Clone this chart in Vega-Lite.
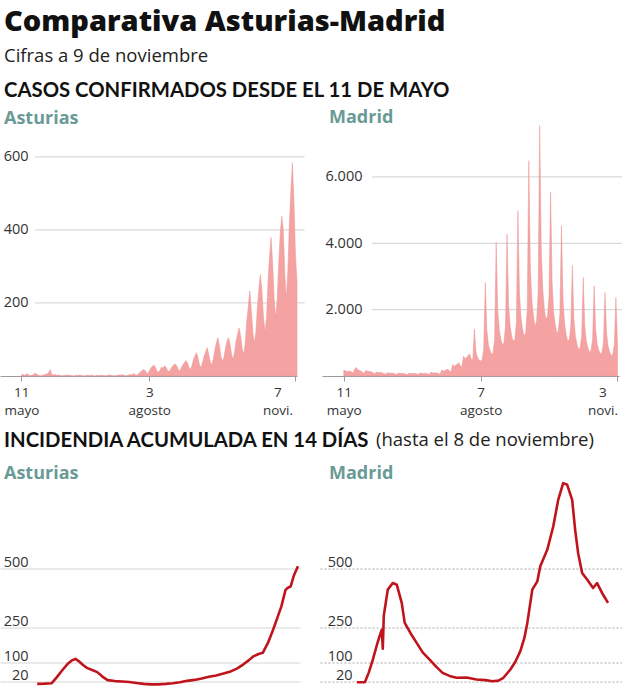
{
  "$schema": "https://vega.github.io/schema/vega-lite/v6.json",
  "padding": {"left": 0, "top": 8, "right": 0, "bottom": 0},
  "title": {
    "text": "Comparativa Asturias-Madrid",
    "subtitle": "Cifras a 9 de noviembre",
    "anchor": "start", "font": "Open Sans", "fontSize": 29, "fontWeight": 800, "color": "#111111",
    "subtitleFont": "Open Sans", "subtitleFontSize": 18.5, "subtitleColor": "#222222", "subtitlePadding": 9.5,
    "dx": 4, "offset": 16
  },
  "datasets": {
    "cases": [
      {"d":"2020-05-11","a":3,"m":180},{"d":"2020-05-12","a":5,"m":150},{"d":"2020-05-13","a":2,"m":140},{"d":"2020-05-14","a":4,"m":130},{"d":"2020-05-15","a":6,"m":160},{"d":"2020-05-16","a":2,"m":120},{"d":"2020-05-17","a":1,"m":90},
      {"d":"2020-05-18","a":2,"m":200},{"d":"2020-05-19","a":4,"m":260},{"d":"2020-05-20","a":8,"m":180},{"d":"2020-05-21","a":5,"m":170},{"d":"2020-05-22","a":3,"m":150},{"d":"2020-05-23","a":1,"m":110},{"d":"2020-05-24","a":0,"m":80},
      {"d":"2020-05-25","a":2,"m":160},{"d":"2020-05-26","a":3,"m":150},{"d":"2020-05-27","a":5,"m":140},{"d":"2020-05-28","a":6,"m":130},{"d":"2020-05-29","a":9,"m":120},{"d":"2020-05-30","a":18,"m":90},{"d":"2020-05-31","a":4,"m":70},
      {"d":"2020-06-01","a":3,"m":120},{"d":"2020-06-02","a":4,"m":110},{"d":"2020-06-03","a":2,"m":100},{"d":"2020-06-04","a":3,"m":110},{"d":"2020-06-05","a":2,"m":90},{"d":"2020-06-06","a":1,"m":70},{"d":"2020-06-07","a":1,"m":60},
      {"d":"2020-06-08","a":1,"m":100},{"d":"2020-06-09","a":2,"m":90},{"d":"2020-06-10","a":3,"m":80},{"d":"2020-06-11","a":2,"m":90},{"d":"2020-06-12","a":2,"m":80},{"d":"2020-06-13","a":1,"m":60},{"d":"2020-06-14","a":0,"m":50},
      {"d":"2020-06-15","a":1,"m":90},{"d":"2020-06-16","a":2,"m":80},{"d":"2020-06-17","a":1,"m":75},{"d":"2020-06-18","a":3,"m":80},{"d":"2020-06-19","a":2,"m":70},{"d":"2020-06-20","a":1,"m":55},{"d":"2020-06-21","a":0,"m":45},
      {"d":"2020-06-22","a":1,"m":85},{"d":"2020-06-23","a":2,"m":75},{"d":"2020-06-24","a":2,"m":70},{"d":"2020-06-25","a":1,"m":80},{"d":"2020-06-26","a":3,"m":75},{"d":"2020-06-27","a":1,"m":60},{"d":"2020-06-28","a":0,"m":50},
      {"d":"2020-06-29","a":1,"m":90},{"d":"2020-06-30","a":2,"m":80},{"d":"2020-07-01","a":1,"m":75},{"d":"2020-07-02","a":2,"m":85},{"d":"2020-07-03","a":2,"m":80},{"d":"2020-07-04","a":1,"m":60},{"d":"2020-07-05","a":1,"m":55},
      {"d":"2020-07-06","a":1,"m":110},{"d":"2020-07-07","a":2,"m":95},{"d":"2020-07-08","a":3,"m":90},{"d":"2020-07-09","a":2,"m":100},{"d":"2020-07-10","a":1,"m":95},{"d":"2020-07-11","a":1,"m":70},{"d":"2020-07-12","a":0,"m":60},
      {"d":"2020-07-13","a":2,"m":180},{"d":"2020-07-14","a":3,"m":150},{"d":"2020-07-15","a":2,"m":160},{"d":"2020-07-16","a":4,"m":190},{"d":"2020-07-17","a":3,"m":200},{"d":"2020-07-18","a":1,"m":150},{"d":"2020-07-19","a":1,"m":130},
      {"d":"2020-07-20","a":2,"m":350},{"d":"2020-07-21","a":4,"m":300},{"d":"2020-07-22","a":3,"m":320},{"d":"2020-07-23","a":5,"m":360},{"d":"2020-07-24","a":6,"m":400},{"d":"2020-07-25","a":3,"m":300},{"d":"2020-07-26","a":2,"m":280},
      {"d":"2020-07-27","a":6,"m":600},{"d":"2020-07-28","a":10,"m":520},{"d":"2020-07-29","a":14,"m":560},{"d":"2020-07-30","a":18,"m":620},{"d":"2020-07-31","a":16,"m":660},{"d":"2020-08-01","a":10,"m":500},{"d":"2020-08-02","a":6,"m":500},
      {"d":"2020-08-03","a":14,"m":1420},{"d":"2020-08-04","a":22,"m":720},{"d":"2020-08-05","a":26,"m":560},{"d":"2020-08-06","a":30,"m":480},{"d":"2020-08-07","a":24,"m":450},{"d":"2020-08-08","a":14,"m":500},{"d":"2020-08-09","a":10,"m":800},
      {"d":"2020-08-10","a":16,"m":2820},{"d":"2020-08-11","a":24,"m":1400},{"d":"2020-08-12","a":22,"m":950},{"d":"2020-08-13","a":28,"m":780},{"d":"2020-08-14","a":24,"m":650},{"d":"2020-08-15","a":15,"m":700},{"d":"2020-08-16","a":12,"m":1100},
      {"d":"2020-08-17","a":18,"m":4030},{"d":"2020-08-18","a":26,"m":2000},{"d":"2020-08-19","a":30,"m":1400},{"d":"2020-08-20","a":33,"m":1100},{"d":"2020-08-21","a":28,"m":950},{"d":"2020-08-22","a":18,"m":1000},{"d":"2020-08-23","a":14,"m":1500},
      {"d":"2020-08-24","a":22,"m":4280},{"d":"2020-08-25","a":30,"m":2150},{"d":"2020-08-26","a":36,"m":1500},{"d":"2020-08-27","a":42,"m":1200},{"d":"2020-08-28","a":38,"m":1050},{"d":"2020-08-29","a":24,"m":1100},{"d":"2020-08-30","a":18,"m":1600},
      {"d":"2020-08-31","a":28,"m":4985},{"d":"2020-09-01","a":45,"m":2500},{"d":"2020-09-02","a":55,"m":1750},{"d":"2020-09-03","a":64,"m":1400},{"d":"2020-09-04","a":50,"m":1200},{"d":"2020-09-05","a":30,"m":1300},{"d":"2020-09-06","a":24,"m":2000},
      {"d":"2020-09-07","a":36,"m":6490},{"d":"2020-09-08","a":55,"m":3250},{"d":"2020-09-09","a":66,"m":2250},{"d":"2020-09-10","a":78,"m":1800},{"d":"2020-09-11","a":60,"m":1500},{"d":"2020-09-12","a":40,"m":1650},{"d":"2020-09-13","a":30,"m":2500},
      {"d":"2020-09-14","a":45,"m":7550},{"d":"2020-09-15","a":70,"m":3800},{"d":"2020-09-16","a":90,"m":2600},{"d":"2020-09-17","a":105,"m":2000},{"d":"2020-09-18","a":85,"m":1700},{"d":"2020-09-19","a":55,"m":1800},{"d":"2020-09-20","a":40,"m":2400},
      {"d":"2020-09-21","a":50,"m":5540},{"d":"2020-09-22","a":75,"m":2800},{"d":"2020-09-23","a":95,"m":1900},{"d":"2020-09-24","a":105,"m":1550},{"d":"2020-09-25","a":90,"m":1300},{"d":"2020-09-26","a":60,"m":1350},{"d":"2020-09-27","a":45,"m":1900},
      {"d":"2020-09-28","a":65,"m":4530},{"d":"2020-09-29","a":95,"m":2300},{"d":"2020-09-30","a":115,"m":1600},{"d":"2020-10-01","a":132,"m":1250},{"d":"2020-10-02","a":110,"m":1050},{"d":"2020-10-03","a":75,"m":1100},{"d":"2020-10-04","a":58,"m":1500},
      {"d":"2020-10-05","a":90,"m":3330},{"d":"2020-10-06","a":150,"m":1700},{"d":"2020-10-07","a":190,"m":1200},{"d":"2020-10-08","a":233,"m":950},{"d":"2020-10-09","a":180,"m":800},{"d":"2020-10-10","a":120,"m":850},{"d":"2020-10-11","a":90,"m":1200},
      {"d":"2020-10-12","a":120,"m":2970},{"d":"2020-10-13","a":190,"m":1500},{"d":"2020-10-14","a":240,"m":1050},{"d":"2020-10-15","a":278,"m":850},{"d":"2020-10-16","a":230,"m":720},{"d":"2020-10-17","a":160,"m":760},{"d":"2020-10-18","a":120,"m":1100},
      {"d":"2020-10-19","a":160,"m":2720},{"d":"2020-10-20","a":260,"m":1400},{"d":"2020-10-21","a":330,"m":950},{"d":"2020-10-22","a":379,"m":780},{"d":"2020-10-23","a":310,"m":660},{"d":"2020-10-24","a":210,"m":700},{"d":"2020-10-25","a":160,"m":1000},
      {"d":"2020-10-26","a":210,"m":2520},{"d":"2020-10-27","a":310,"m":1300},{"d":"2020-10-28","a":390,"m":900},{"d":"2020-10-29","a":438,"m":720},{"d":"2020-10-30","a":400,"m":620},{"d":"2020-10-31","a":280,"m":650},{"d":"2020-11-01","a":210,"m":950},
      {"d":"2020-11-02","a":290,"m":2370},{"d":"2020-11-03","a":420,"m":1000},{"d":"2020-11-04","a":510,"m":null},{"d":"2020-11-05","a":584,"m":null},{"d":"2020-11-06","a":480,"m":null},{"d":"2020-11-07","a":330,"m":null},{"d":"2020-11-08","a":260,"m":null}
    ],
    "iaAst": [
      {"d":"2020-03-01","v":11},{"d":"2020-03-08","v":12},{"d":"2020-03-15","v":14},{"d":"2020-03-20","v":40},{"d":"2020-03-25","v":68},{"d":"2020-03-30","v":94},{"d":"2020-04-04","v":112},{"d":"2020-04-07","v":117},{"d":"2020-04-10","v":108},{"d":"2020-04-14","v":92},{"d":"2020-04-18","v":79},{"d":"2020-04-23","v":70},{"d":"2020-04-28","v":61},{"d":"2020-05-03","v":42},{"d":"2020-05-08","v":27},{"d":"2020-05-15","v":23},{"d":"2020-05-22","v":21},{"d":"2020-05-29","v":19},{"d":"2020-06-05","v":15},{"d":"2020-06-12","v":11},{"d":"2020-06-19","v":9},{"d":"2020-06-26","v":9},{"d":"2020-07-03","v":11},{"d":"2020-07-10","v":14},{"d":"2020-07-17","v":18},{"d":"2020-07-24","v":24},{"d":"2020-07-31","v":28},{"d":"2020-08-07","v":34},{"d":"2020-08-14","v":41},{"d":"2020-08-21","v":47},{"d":"2020-08-28","v":55},{"d":"2020-09-04","v":64},{"d":"2020-09-10","v":76},{"d":"2020-09-16","v":93},{"d":"2020-09-22","v":113},{"d":"2020-09-26","v":128},{"d":"2020-10-01","v":138},{"d":"2020-10-05","v":143},{"d":"2020-10-10","v":185},{"d":"2020-10-15","v":241},{"d":"2020-10-19","v":290},{"d":"2020-10-23","v":340},{"d":"2020-10-27","v":410},{"d":"2020-10-29","v":418},{"d":"2020-11-01","v":425},{"d":"2020-11-04","v":470},{"d":"2020-11-08","v":510}
    ],
    "iaMad": [
      {"d":"2020-03-01","v":18},{"d":"2020-03-09","v":18},{"d":"2020-03-13","v":60},{"d":"2020-03-17","v":114},{"d":"2020-03-22","v":190},{"d":"2020-03-26","v":241},{"d":"2020-03-27","v":160},{"d":"2020-03-28","v":300},{"d":"2020-04-01","v":411},{"d":"2020-04-06","v":439},{"d":"2020-04-10","v":432},{"d":"2020-04-15","v":355},{"d":"2020-04-18","v":270},{"d":"2020-04-24","v":225},{"d":"2020-04-30","v":185},{"d":"2020-05-06","v":145},{"d":"2020-05-13","v":114},{"d":"2020-05-20","v":82},{"d":"2020-05-26","v":58},{"d":"2020-06-02","v":45},{"d":"2020-06-09","v":37},{"d":"2020-06-19","v":38},{"d":"2020-06-29","v":30},{"d":"2020-07-08","v":27},{"d":"2020-07-15","v":22},{"d":"2020-07-21","v":25},{"d":"2020-07-26","v":37},{"d":"2020-08-02","v":72},{"d":"2020-08-07","v":105},{"d":"2020-08-12","v":150},{"d":"2020-08-16","v":205},{"d":"2020-08-19","v":270},{"d":"2020-08-24","v":411},{"d":"2020-08-29","v":446},{"d":"2020-09-01","v":510},{"d":"2020-09-08","v":580},{"d":"2020-09-14","v":679},{"d":"2020-09-19","v":792},{"d":"2020-09-24","v":863},{"d":"2020-09-28","v":856},{"d":"2020-10-03","v":792},{"d":"2020-10-06","v":665},{"d":"2020-10-09","v":566},{"d":"2020-10-13","v":482},{"d":"2020-10-18","v":454},{"d":"2020-10-24","v":418},{"d":"2020-10-28","v":439},{"d":"2020-11-02","v":397},{"d":"2020-11-08","v":355}
    ]
  },
  "spacing": 13.5,
  "vconcat": [
    {
      "title": {"text": "CASOS CONFIRMADOS DESDE EL 11 DE MAYO", "anchor": "start", "font": "Lato", "fontSize": 20.3, "fontWeight": "bold", "color": "#111111", "dx": 4, "offset": 7.5},
      "bounds": "flush",
      "spacing": 25,
      "hconcat": [
        {
          "width": 297, "height": 245,
          "title": {"text": "Asturias", "anchor": "start", "font": "Open Sans", "fontSize": 18, "fontWeight": "bold", "color": "#6a9a96", "dx": 4, "offset": 3},
          "layer": [
            {
              "data": {"values": [{"g": 200}, {"g": 400}, {"g": 600}]},
              "mark": {"type": "rule", "color": "#dadada", "strokeWidth": 1.3},
              "encoding": {
                "x": {"datum": {"year": 2020, "month": 5, "date": 20}, "type": "temporal"},
                "x2": {"datum": {"year": 2020, "month": 11, "date": 13}},
                "y": {"field": "g", "type": "quantitative", "title": null}
              }
            },
            {
              "data": {"name": "cases"},
              "mark": {"type": "area", "color": "#f4a2a2", "stroke": "#ee9494", "strokeWidth": 0.5},
              "encoding": {
                "x": {"field": "d", "type": "temporal", "title": null,
                  "scale": {"domain": [{"year": 2020, "month": 4, "date": 27}, {"year": 2020, "month": 11, "date": 8}]},
                  "axis": {"values": [{"year": 2020, "month": 5, "date": 11}, {"year": 2020, "month": 8, "date": 3}, {"year": 2020, "month": 11, "date": 7}],
                    "labelExpr": "[timeFormat(datum.value, '%-d'), month(datum.value) == 4 ? 'mayo' : month(datum.value) == 7 ? 'agosto' : 'novi.']",
                    "grid": false, "domainColor": "#9a9a9a", "tickColor": "#9a9a9a", "tickSize": 5, "labelPadding": 4, "labelLineHeight": 18,
                    "labelFont": "Open Sans", "labelFontSize": 13.5, "labelColor": "#333333", "labelAlign": "center",
                    "labelOffset": {"condition": {"test": "month(datum.value) == 10", "value": -18}, "value": 0}}},
                "y": {"field": "a", "type": "quantitative", "title": null,
                  "scale": {"domain": [0, 671], "nice": false},
                  "axis": {"values": [200, 400, 600], "grid": false, "domain": false, "ticks": false, "tickSize": 0,
                    "labelAlign": "right", "labelBaseline": "middle", "labelPadding": -28, "labelFont": "Open Sans", "labelFontSize": 14.5, "labelColor": "#333333"}}
              }
            }
          ]
        },
        {
          "width": 297, "height": 245,
          "title": {"text": "Madrid", "anchor": "start", "font": "Open Sans", "fontSize": 18, "fontWeight": "bold", "color": "#6a9a96", "dx": 7, "offset": -2.7},
          "layer": [
            {
              "data": {"values": [{"g": 2000}, {"g": 4000}, {"g": 6000}]},
              "mark": {"type": "rule", "color": "#dadada", "strokeWidth": 1.3},
              "encoding": {
                "x": {"datum": {"year": 2020, "month": 5, "date": 29}, "type": "temporal"},
                "x2": {"datum": {"year": 2020, "month": 11, "date": 7}},
                "y": {"field": "g", "type": "quantitative", "title": null}
              }
            },
            {
              "data": {"name": "cases"},
              "mark": {"type": "area", "color": "#f4a2a2", "stroke": "#ee9494", "strokeWidth": 0.5},
              "encoding": {
                "x": {"field": "d", "type": "temporal", "title": null,
                  "scale": {"domain": [{"year": 2020, "month": 4, "date": 27}, {"year": 2020, "month": 11, "date": 4}]},
                  "axis": {"values": [{"year": 2020, "month": 5, "date": 11}, {"year": 2020, "month": 8, "date": 7}, {"year": 2020, "month": 11, "date": 3}],
                    "labelExpr": "[timeFormat(datum.value, '%-d'), month(datum.value) == 4 ? 'mayo' : month(datum.value) == 7 ? 'agosto' : 'novi.']",
                    "grid": false, "domainColor": "#9a9a9a", "tickColor": "#9a9a9a", "tickSize": 5, "labelPadding": 4, "labelLineHeight": 18,
                    "labelFont": "Open Sans", "labelFontSize": 13.5, "labelColor": "#333333", "labelAlign": "center",
                    "labelOffset": {"condition": {"test": "month(datum.value) == 10", "value": -15}, "value": 0}}},
                "y": {"field": "m", "type": "quantitative", "title": null,
                  "scale": {"domain": [0, 7386], "nice": false},
                  "axis": {"values": [2000, 4000, 6000], "grid": false, "domain": false, "ticks": false, "tickSize": 0,
                    "labelExpr": "replace(format(datum.value, ','), ',', '.')",
                    "labelAlign": "right", "labelBaseline": "middle", "labelPadding": -40, "labelFont": "Open Sans", "labelFontSize": 14.5, "labelColor": "#333333"}}
              }
            }
          ]
        }
      ]
    },
    {
      "title": {"text": "INCIDENDIA ACUMULADA EN 14 DÍAS", "anchor": "start", "font": "Lato", "fontSize": 20.3, "fontWeight": "bold", "color": "#111111", "dx": 4, "dy": 24.5, "offset": 4},
      "vconcat": [
        {
          "title": {"text": "(hasta el 8 de noviembre)", "anchor": "start", "font": "Open Sans", "fontSize": 18.5, "fontWeight": "normal", "color": "#222222", "dx": 376, "offset": 15.5},
          "bounds": "flush",
          "spacing": 20,
          "hconcat": [
            {
              "width": 300, "height": 205,
              "title": {"text": "Asturias", "anchor": "start", "font": "Open Sans", "fontSize": 18, "fontWeight": "bold", "color": "#6a9a96", "dx": 4, "offset": -1.5},
              "data": {"name": "iaAst"},
              "mark": {"type": "line", "color": "#c0141c", "strokeWidth": 2.6, "strokeJoin": "round"},
              "encoding": {
                "x": {"field": "d", "type": "temporal", "title": null,
                  "scale": {"domain": [{"year": 2020, "month": 1, "date": 25}, {"year": 2020, "month": 11, "date": 10}]}, "axis": null},
                "y": {"field": "v", "type": "quantitative", "title": null,
                  "scale": {"domain": [0, 870], "nice": false},
                  "axis": {"values": [20, 100, 250, 500], "grid": true, "gridColor": "#d6d6d6", "gridWidth": 1.2, "domain": false, "ticks": false, "tickSize": 0,
                    "labelAlign": "right", "labelBaseline": "alphabetic", "labelOffset": -2, "labelPadding": -28, "labelFont": "Open Sans", "labelFontSize": 14.5, "labelColor": "#333333"}}
              }
            },
            {
              "width": 302, "height": 205,
              "title": {"text": "Madrid", "anchor": "start", "font": "Open Sans", "fontSize": 18, "fontWeight": "bold", "color": "#6a9a96", "dx": 9, "offset": -1.5},
              "data": {"name": "iaMad"},
              "mark": {"type": "line", "color": "#c0141c", "strokeWidth": 2.6, "strokeJoin": "round"},
              "encoding": {
                "x": {"field": "d", "type": "temporal", "title": null,
                  "scale": {"domain": [{"year": 2020, "month": 1, "date": 24}, {"year": 2020, "month": 11, "date": 22}]}, "axis": null},
                "y": {"field": "v", "type": "quantitative", "title": null,
                  "scale": {"domain": [0, 870], "nice": false},
                  "axis": {"values": [20, 100, 250, 500], "grid": true, "gridColor": "#a8a8a8", "gridDash": [2, 2], "gridWidth": 1, "domain": false, "ticks": false, "tickSize": 0,
                    "labelAlign": "right", "labelBaseline": "alphabetic", "labelOffset": -2, "labelPadding": -32, "labelFont": "Open Sans", "labelFontSize": 14.5, "labelColor": "#333333"}}
              }
            }
          ]
        }
      ]
    }
  ],
  "config": {
    "font": "Lato",
    "view": {"stroke": null},
    "axis": {"labelFont": "Lato"}
  }
}
